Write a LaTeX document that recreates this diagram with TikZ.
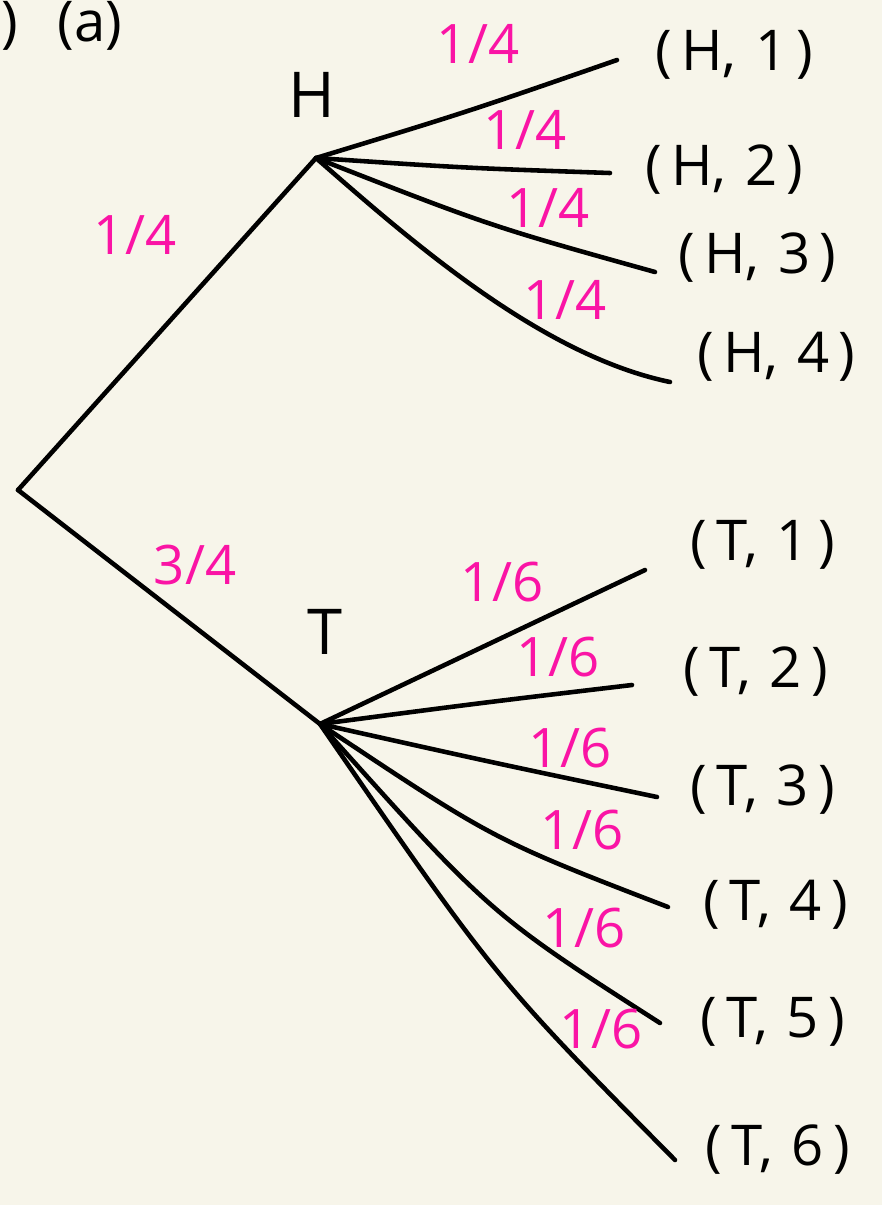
\documentclass[tikz,border=0pt]{standalone}
\usepackage{fontspec}
\setmainfont{Open Sans}
\usetikzlibrary{positioning}
\definecolor{paper}{RGB}{247,245,234}
\definecolor{prob}{RGB}{250,20,165}

\begin{document}
\begin{tikzpicture}[x=0.02cm, y=-0.02cm,
  br/.style={line width=2.6pt, line cap=round, line join=round},
  lf/.style={font=\fontsize{32}{38}\selectfont, anchor=west, inner sep=0pt},
  pr/.style={font=\fontsize{31}{36}\selectfont, text=prob, inner sep=0pt},
  st/.style={font=\fontsize{36}{42}\selectfont, inner sep=0pt}]
  \fill[paper] (0,0) rectangle (882,1205);
  \useasboundingbox (0,0) rectangle (882,1205);
  \node[lf] (part) at (1,26) {)\hspace{0.8cm}(a)};
  % branching points
  \coordinate (root) at (18,490);
  \coordinate (h) at (316,158);
  \coordinate (t) at (320,724);
  \node[st] (hl) at (312,95) {H};
  \node[st] (tl) at (325,632) {T};
  % ends of the branches
  \coordinate (h1) at (617,60);
  \coordinate (h2) at (610,173);
  \coordinate (h3) at (655,272);
  \coordinate (h4) at (670,382);
  \coordinate (t1) at (645,570);
  \coordinate (t2) at (632,685);
  \coordinate (t3) at (657,797);
  \coordinate (t4) at (668,907);
  \coordinate (t5) at (660,1023);
  \coordinate (t6) at (675,1160);
  % outcomes
  \node[lf] (H1) at (655,55) {(\,H,\,\,1\,)};
  \node[lf] (H2) at (645,170) {(\,H,\,\,2\,)};
  \node[lf] (H3) at (678,258) {(\,H,\,\,3\,)};
  \node[lf] (H4) at (697,357) {(\,H,\,\,4\,)};
  \node[lf] (T1) at (690,545) {(\,T,\,\,1\,)};
  \node[lf] (T2) at (683,672) {(\,T,\,\,2\,)};
  \node[lf] (T3) at (690,790) {(\,T,\,\,3\,)};
  \node[lf] (T4) at (703,905) {(\,T,\,\,4\,)};
  \node[lf] (T5) at (700,1022) {(\,T,\,\,5\,)};
  \node[lf] (T6) at (705,1150) {(\,T,\,\,6\,)};
  \draw[br] (root) -- (h);
  \draw[br] (root) -- (t);
  \draw[br] (h) .. controls (467,112) .. (h1);
  \draw[br] (h) .. controls (465,168) .. (h2);
  \draw[br] (h) .. controls (490,226) .. (h3);
  \draw[br] (h) .. controls (410,240) and (540,355) .. (h4);
  \draw[br] (t) -- (t1);
  \draw[br] (t) .. controls (480,703) .. (t2);
  \draw[br] (t) .. controls (490,762) .. (t3);
  \draw[br] (t) .. controls (494,840) .. (t4);
  \draw[br] (t) .. controls (490,914) .. (t5);
  \draw[br] (t) .. controls (495,978) .. (t6);
  % probabilities
  \node[pr] (pH) at (135,235) {1/4};
  \node[pr] (pT) at (195,565) {3/4};
  \node[pr] (p1) at (478,44) {1/4};
  \node[pr] (p2) at (525,130) {1/4};
  \node[pr] (p3) at (548,208) {1/4};
  \node[pr] (p4) at (565,300) {1/4};
  \node[pr] (q1) at (502,582) {1/6};
  \node[pr] (q2) at (558,657) {1/6};
  \node[pr] (q3) at (570,748) {1/6};
  \node[pr] (q4) at (582,830) {1/6};
  \node[pr] (q5) at (584,928) {1/6};
  \node[pr] (q6) at (601,1029) {1/6};
\end{tikzpicture}
\end{document}
